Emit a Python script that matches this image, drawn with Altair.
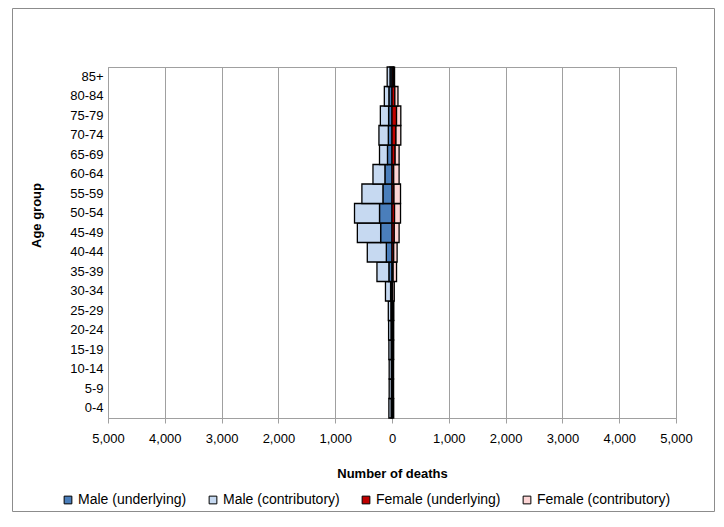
import altair as alt
import pandas as pd

ages = ["0-4", "5-9", "10-14", "15-19", "20-24", "25-29", "30-34", "35-39", "40-44",
        "45-49", "50-54", "55-59", "60-64", "65-69", "70-74", "75-79", "80-84", "85+"]
male_underlying = [15, 12, 12, 15, 18, 20, 25, 55, 100, 200, 220, 160, 125, 80, 65, 60, 55, 35]
male_contributory = [40, 38, 38, 40, 42, 45, 90, 210, 335, 410, 440, 370, 210, 140, 165, 145, 80, 50]
female_underlying = [10, 10, 10, 10, 10, 10, 10, 20, 30, 40, 45, 35, 30, 55, 70, 80, 50, 25]
female_contributory = [20, 18, 18, 20, 20, 22, 30, 60, 60, 85, 105, 115, 95, 70, 85, 75, 55, 20]

series = ["Male (underlying)", "Male (contributory)", "Female (underlying)", "Female (contributory)"]
colors = ["#4A7EBB", "#C6D9F1", "#C00000", "#FCD5D5"]
tick_vals = list(range(-5000, 5001, 1000))

rows = []
for i, a in enumerate(ages):
    rows.append({"age": a, "series": series[0], "value": -male_underlying[i], "ord": 0})
    rows.append({"age": a, "series": series[1], "value": -male_contributory[i], "ord": 1})
    rows.append({"age": a, "series": series[2], "value": female_underlying[i], "ord": 0})
    rows.append({"age": a, "series": series[3], "value": female_contributory[i], "ord": 1})
df = pd.DataFrame(rows)

FONT = "Liberation Sans"
GRID = "#A0A0A0"
W, H = 568, 351
PL, PT, PR, PB = 100, 59, 40, 95

bars = alt.Chart(df).mark_bar(stroke="black", strokeWidth=1.3).encode(
    x=alt.X("value:Q", stack="zero",
            scale=alt.Scale(domain=[-5000, 5000], nice=False, zero=False),
            axis=alt.Axis(values=tick_vals, labelExpr="format(abs(datum.value), ',')",
                          labelFlush=False, labelOverlap=False,
                          title="Number of deaths", grid=True, gridColor=GRID,
                          domainColor=GRID, tickColor=GRID, tickSize=5,
                          labelPadding=9, titlePadding=22)),
    y=alt.Y("age:N", sort=ages[::-1],
            scale=alt.Scale(paddingInner=0, paddingOuter=0),
            axis=alt.Axis(title="Age group", ticks=False, tickSize=0, labelPadding=5,
                          domainColor=GRID, grid=False,
                          titleX=-72, titleY=148, titleAngle=270,
                          titleBaseline="middle", titleAlign="center")),
    color=alt.Color("series:N", scale=alt.Scale(domain=series, range=colors),
                    legend=alt.Legend(title=None, orient="none", direction="horizontal",
                                      legendX=-47, legendY=426, symbolType="square",
                                      symbolSize=60, symbolStrokeColor="black",
                                      symbolStrokeWidth=1, labelFontSize=14,
                                      labelOffset=3, columnPadding=19, labelLimit=300)),
    order=alt.Order("ord:Q", sort="ascending"),
)

frame_df = pd.DataFrame({"k": [0]})
frame = alt.Chart(frame_df).mark_rect(fill=None, stroke="#8C8C8C", strokeWidth=1).encode(
    x=alt.value(-95.5), x2=alt.value(W + PR - 1.5),
    y=alt.value(-PT + 0.5), y2=alt.value(H + PB - 1.5),
)

chart = alt.layer(bars, frame).properties(
    width=W, height=H,
    autosize=alt.AutoSizeParams(type="none"),
    padding={"left": PL, "top": PT, "right": PR, "bottom": PB},
).configure(font=FONT, background="white").configure_view(
    stroke=GRID, strokeWidth=1
).configure_axis(
    labelFont=FONT, titleFont=FONT, labelFontSize=13, titleFontSize=13,
    labelColor="black", titleColor="black", titleFontWeight="bold"
).configure_legend(labelFont=FONT, labelColor="black")

chart.save("out.html", embed_options={"renderer": "svg", "actions": False})
